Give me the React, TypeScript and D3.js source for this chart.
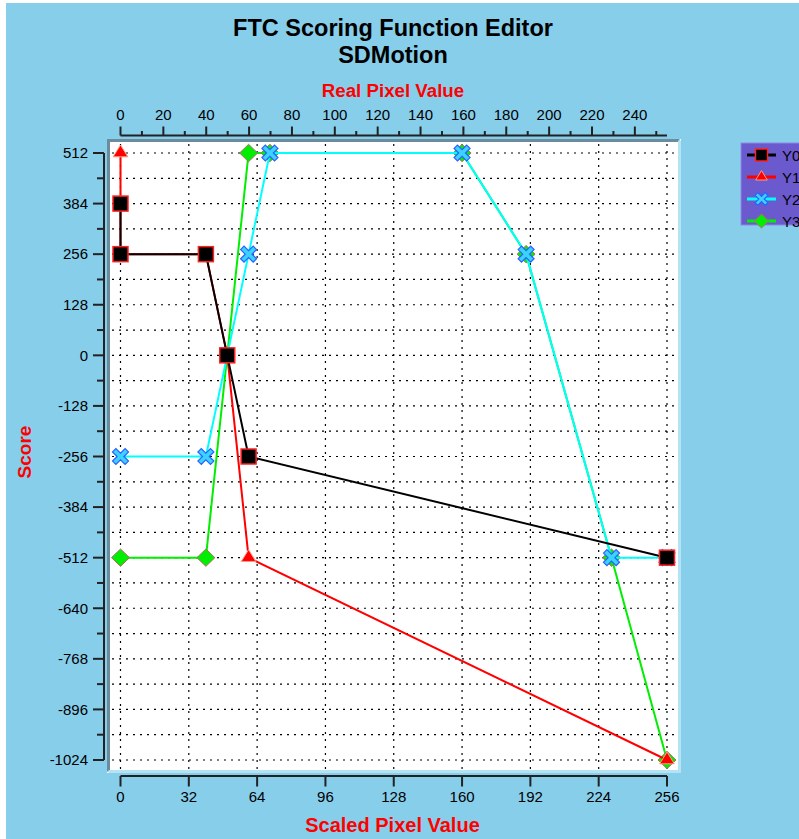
import React from "react";
import * as d3 from "d3";

// ---- data ----
const seriesNames = ["Y0", "Y1", "Y2", "Y3"];
const y0X = [0, 0, 40, 50, 60, 256];
const y0Y = [384, 256, 256, 0, -256, -512];
const y1X = [0, 0, 0, 40, 50, 60, 256];
const y1Y = [512, 384, 256, 256, 0, -512, -1024];
const y2X = [0, 40, 60, 70, 160, 190, 230, 256];
const y2Y = [-256, -256, 256, 512, 512, 256, -512, -512];
const y3X = [0, 40, 60, 70, 160, 190, 230, 256];
const y3Y = [-512, -512, 512, 512, 512, 256, -512, -1024];

const bottomTicks = [0, 32, 64, 96, 128, 160, 192, 224, 256];
const topTicks = [0, 20, 40, 60, 80, 100, 120, 140, 160, 180, 200, 220, 240];
const topMinorTicks = [10, 30, 50, 70, 90, 110, 130, 150, 170, 190, 210, 230, 250];
const yTicks = [512, 384, 256, 128, 0, -128, -256, -384, -512, -640, -768, -896, -1024];
const yMinorTicks = [448, 320, 192, 64, -64, -192, -320, -448, -576, -704, -832, -960];
const gridYTicks = [512, 448, 384, 320, 256, 192, 128, 64, 0, -64, -128, -192, -256, -320, -384, -448, -512, -576, -640, -704, -768, -832, -896, -960, -1024];

const titleLines = ["FTC Scoring Function Editor", "SDMotion"];
const topTitle = "Real Pixel Value";
const bottomTitle = "Scaled Pixel Value";
const leftTitle = "Score";

// ---- layout ----
const W = 799;
const H = 839;
const X0 = 120.5;
const X1 = 667;
const YT = 153;
const YB = 760;
const FONT = "'Liberation Sans', Arial, Helvetica, sans-serif";

const x = d3.scaleLinear().domain([0, 256]).range([X0, X1]);
const xTop = d3.scaleLinear().domain([0, 255]).range([X0, X1]);
const y = d3.scaleLinear().domain([-1024, 512]).range([YB, YT]);

type Marker = "square" | "triangle" | "x" | "diamond";

const styles: { color: string; marker: Marker }[] = [
  { color: "#000000", marker: "square" },
  { color: "#ff0000", marker: "triangle" },
  { color: "#00ffff", marker: "x" },
  { color: "#00ee00", marker: "diamond" },
];

const seriesData = [
  { xs: y0X, ys: y0Y },
  { xs: y1X, ys: y1Y },
  { xs: y2X, ys: y2Y },
  { xs: y3X, ys: y3Y },
];

function xPath(a: number, d: number) {
  const p = [
    [-a, -a + d], [-a + d, -a], [0, -d], [a - d, -a], [a, -a + d], [d, 0],
    [a, a - d], [a - d, a], [0, d], [-a + d, a], [-a, a - d], [-d, 0],
  ];
  return "M" + p.map((q) => q.join(",")).join("L") + "Z";
}

function MarkerShape({ kind, cx, cy, s = 1 }: { kind: Marker; cx: number; cy: number; s?: number }) {
  if (kind === "square") {
    const h = 7.5 * s;
    return <rect x={cx - h} y={cy - h} width={2 * h} height={2 * h} fill="#000" stroke="#ff2020" strokeWidth={1.5} />;
  }
  if (kind === "triangle") {
    const p = `M${cx},${cy - 8 * s}L${cx + 7.3 * s},${cy + 3.8 * s}L${cx - 7.3 * s},${cy + 3.8 * s}Z`;
    return <path d={p} fill="#ff0000" stroke="#ff9a80" strokeWidth={1} />;
  }
  if (kind === "x") {
    return <path d={xPath(8 * s, 3.4 * s)} transform={`translate(${cx},${cy})`} fill="#3cd2ff" stroke="#2a60ff" strokeWidth={1.2} />;
  }
  const p = `M${cx},${cy - 8.7 * s}L${cx + 9 * s},${cy}L${cx},${cy + 8.7 * s}L${cx - 9 * s},${cy}Z`;
  return <path d={p} fill="#00ee00" stroke="#b06a6a" strokeWidth={1} />;
}

export default function App() {
  const line = d3.line<[number, number]>().x((d) => x(d[0])).y((d) => y(d[1]));
  const order = [3, 2, 1, 0];
  return (
    <svg width={W} height={H} style={{ position: "absolute", left: 0, top: 0, background: "#ffffff" }} fontFamily={FONT}>
      <rect x={6} y={3} width={W - 6} height={H - 3} fill="#87ceeb" />

      {/* title */}
      <text x={393} y={36} textAnchor="middle" fontSize={23.5} fontWeight="bold" fill="#000">{titleLines[0]}</text>
      <text x={393} y={63} textAnchor="middle" fontSize={23.5} fontWeight="bold" fill="#000">{titleLines[1]}</text>

      {/* plot frame */}
      <rect x={107} y={139} width={574} height={634} fill="#ffffff" />
      <path d="M679.5,140.5 L108.5,140.5 L108.5,771.5" fill="none" stroke="#6a8c9c" strokeWidth={3} />
      <path d="M108.5,771.5 L679.5,771.5 L679.5,140.5" fill="none" stroke="#b4e4f4" strokeWidth={3} />

      {/* grid */}
      <g stroke="#000" strokeWidth={1.2} strokeDasharray="2,5">
        {bottomTicks.map((t) => (
          <line key={"gx" + t} x1={x(t)} x2={x(t)} y1={144} y2={769} />
        ))}
        {gridYTicks.map((t) => (
          <line key={"gy" + t} x1={112} x2={677} y1={y(t)} y2={y(t)} />
        ))}
      </g>

      {/* top axis */}
      <g stroke="#222" strokeWidth={2}>
        <line x1={X0} x2={X1} y1={135.5} y2={135.5} />
        {topTicks.map((t) => (
          <line key={"tt" + t} x1={xTop(t)} x2={xTop(t)} y1={135.5} y2={126.5} />
        ))}
        {topMinorTicks.map((t) => (
          <line key={"tm" + t} x1={xTop(t)} x2={xTop(t)} y1={135.5} y2={131} />
        ))}
      </g>
      {topTicks.map((t) => (
        <text key={"tl" + t} x={xTop(t)} y={119.5} textAnchor="middle" fontSize={15} fill="#000">{t}</text>
      ))}
      <text x={393} y={96.5} textAnchor="middle" fontSize={18.7} fontWeight="bold" fill="#ff0000">{topTitle}</text>

      {/* bottom axis */}
      <g stroke="#222" strokeWidth={2}>
        <line x1={X0} x2={X1} y1={776} y2={776} />
        {bottomTicks.map((t) => (
          <line key={"bt" + t} x1={x(t)} x2={x(t)} y1={776} y2={786.5} />
        ))}
      </g>
      {bottomTicks.map((t) => (
        <text key={"bl" + t} x={x(t)} y={801.5} textAnchor="middle" fontSize={15} fill="#000">{t}</text>
      ))}
      <text x={392.5} y={831.5} textAnchor="middle" fontSize={20} fontWeight="bold" fill="#ff0000">{bottomTitle}</text>

      {/* left axis */}
      <g stroke="#222" strokeWidth={2}>
        <line x1={104} x2={104} y1={YT} y2={YB} />
        {yTicks.map((t) => (
          <line key={"yt" + t} x1={104} x2={93} y1={y(t)} y2={y(t)} />
        ))}
        {yMinorTicks.map((t) => (
          <line key={"ym" + t} x1={104} x2={97} y1={y(t)} y2={y(t)} />
        ))}
      </g>
      {yTicks.map((t) => (
        <text key={"yl" + t} x={88} y={y(t) + 5.3} textAnchor="end" fontSize={15} fill="#000">{t}</text>
      ))}
      <text transform="translate(31,452) rotate(-90)" textAnchor="middle" fontSize={19} fontWeight="bold" fill="#ff0000">{leftTitle}</text>

      {/* series */}
      {order.map((i) => {
        const s = seriesData[i];
        const pts: [number, number][] = s.xs.map((v, k) => [v, s.ys[k]]);
        return (
          <g key={"s" + i}>
            <path d={line(pts) || ""} fill="none" stroke={styles[i].color} strokeWidth={2} />
            {pts.map((p, k) => (
              <MarkerShape key={k} kind={styles[i].marker} cx={x(p[0])} cy={y(p[1])} />
            ))}
          </g>
        );
      })}

      {/* legend */}
      <rect x={741} y={143} width={80} height={82} fill="#6a5acd" stroke="#8f88e6" strokeWidth={1} />
      {seriesNames.map((n, i) => {
        const cy = 155 + i * 22;
        return (
          <g key={"lg" + n}>
            <line x1={747} x2={776} y1={cy} y2={cy} stroke={styles[i].color} strokeWidth={3} />
            <MarkerShape kind={styles[i].marker} cx={761.5} cy={cy} s={0.8} />
            <text x={782} y={cy + 5.5} fontSize={15} fill="#000">{n}</text>
          </g>
        );
      })}
    </svg>
  );
}
